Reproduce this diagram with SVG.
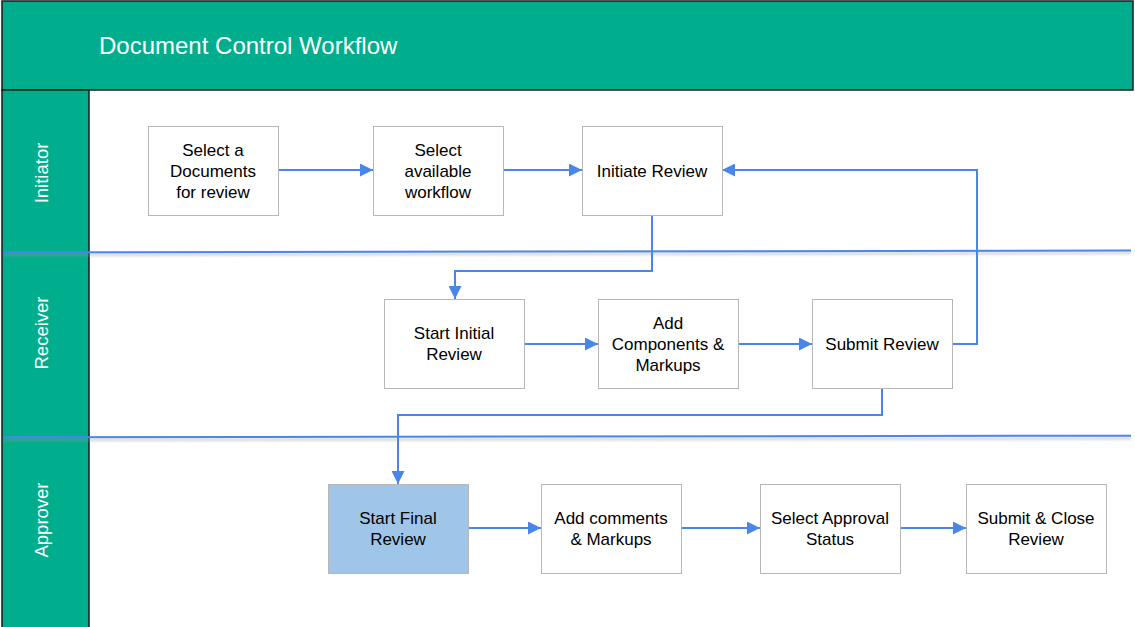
<svg xmlns="http://www.w3.org/2000/svg" width="1135" height="627" viewBox="0 0 1135 627">
<defs>
<style>
.box{fill:#ffffff;stroke:#b7b7b7;stroke-width:1}
.t{font-family:"Liberation Sans",Arial,sans-serif;font-size:17px;fill:#000000;text-anchor:middle}
.lane{font-family:"Liberation Sans",Arial,sans-serif;font-size:18.5px;fill:#ffffff;text-anchor:middle}
.c{fill:none;stroke:#4a86e8;stroke-width:2}
.div{fill:none;stroke:#4a86e8;stroke-width:2}
.sh{fill:none;stroke:#999999;stroke-width:3;opacity:0.35}
</style>
<marker id="ah" viewBox="0 0 10 10" refX="10" refY="5" markerWidth="6.5" markerHeight="6.5" markerUnits="strokeWidth" orient="auto">
<path d="M0,0 L10,5 L0,10 z" fill="#4a86e8"/>
</marker>
<filter id="blur" x="-5%" y="-200%" width="110%" height="500%"><feGaussianBlur stdDeviation="1.2"/></filter>
</defs>
<g id="lanes">
<rect x="2" y="1" width="1131" height="89" fill="#00ae8e" stroke="#1a1a1a" stroke-width="1.5"/>
<text x="99" y="54" font-family="'Liberation Sans',Arial,sans-serif" font-size="24" fill="#ffffff">Document Control Workflow</text>
<rect x="2" y="90" width="87" height="540" fill="#00ae8e" stroke="#1a1a1a" stroke-width="1.5"/>
<text class="lane" transform="translate(48,173) rotate(-90)">Initiator</text>
<text class="lane" transform="translate(48,333) rotate(-90)">Receiver</text>
<text class="lane" transform="translate(48,520) rotate(-90)">Approver</text>
<path class="sh" d="M4,255 L1131,253" filter="url(#blur)"/>
<path class="div" d="M4,252.5 L1131,250.5"/>
<path class="sh" d="M4,440 L1131,438.5" filter="url(#blur)"/>
<path class="div" d="M4,437.3 L1131,435.7"/>
</g>
<g id="connectors">
<path class="c" d="M278,170 L373,170" marker-end="url(#ah)"/>
<path class="c" d="M503,170 L582,170" marker-end="url(#ah)"/>
<path class="c" d="M652,215 L652,271 L455,271 L455,299" marker-end="url(#ah)"/>
<path class="c" d="M524,344 L598,344" marker-end="url(#ah)"/>
<path class="c" d="M738,344 L812,344" marker-end="url(#ah)"/>
<path class="c" d="M952,344 L977,344 L977,170 L722,170" marker-end="url(#ah)"/>
<path class="c" d="M882,388 L882,415 L398,415 L398,484" marker-end="url(#ah)"/>
<path class="c" d="M468,528 L541,528" marker-end="url(#ah)"/>
<path class="c" d="M681,528 L760,528" marker-end="url(#ah)"/>
<path class="c" d="M900,528 L966,528" marker-end="url(#ah)"/>
</g>
<g id="n1"><rect class="box" x="148.5" y="126.5" width="130" height="89"/>
<text class="t" x="213" y="156">Select a</text><text class="t" x="213" y="177">Documents</text><text class="t" x="213" y="198">for review</text></g>
<g id="n2"><rect class="box" x="373.5" y="126.5" width="130" height="89"/>
<text class="t" x="438" y="156">Select</text><text class="t" x="438" y="177">available</text><text class="t" x="438" y="198">workflow</text></g>
<g id="n3"><rect class="box" x="582.5" y="126.5" width="140" height="89"/>
<text class="t" x="652" y="177">Initiate Review</text></g>
<g id="n4"><rect class="box" x="384.5" y="299.5" width="140" height="89"/>
<text class="t" x="454" y="339">Start Initial</text><text class="t" x="454" y="360">Review</text></g>
<g id="n5"><rect class="box" x="598.5" y="299.5" width="140" height="89"/>
<text class="t" x="668" y="329">Add</text><text class="t" x="668" y="350">Components &amp;</text><text class="t" x="668" y="371">Markups</text></g>
<g id="n6"><rect class="box" x="812.5" y="299.5" width="140" height="89"/>
<text class="t" x="882" y="350">Submit Review</text></g>
<g id="n7"><rect class="box" x="328.5" y="484.5" width="140" height="89" style="fill:#9fc5e8"/>
<text class="t" x="398" y="524">Start Final</text><text class="t" x="398" y="545">Review</text></g>
<g id="n8"><rect class="box" x="541.5" y="484.5" width="140" height="89"/>
<text class="t" x="611" y="524">Add comments</text><text class="t" x="611" y="545">&amp; Markups</text></g>
<g id="n9"><rect class="box" x="760.5" y="484.5" width="140" height="89"/>
<text class="t" x="830" y="524">Select Approval</text><text class="t" x="830" y="545">Status</text></g>
<g id="n10"><rect class="box" x="966.5" y="484.5" width="140" height="89"/>
<text class="t" x="1036" y="524">Submit &amp; Close</text><text class="t" x="1036" y="545">Review</text></g>
</svg>
